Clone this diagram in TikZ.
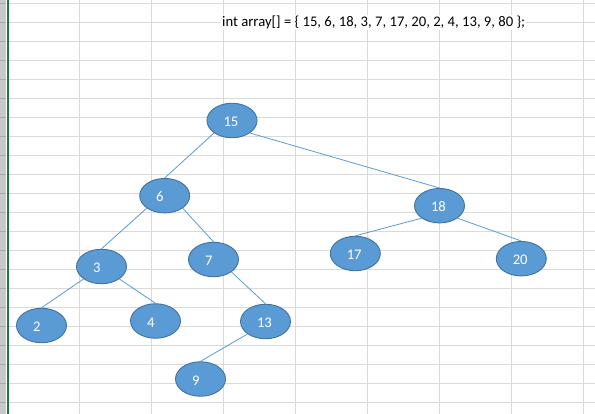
\documentclass[tikz,border=0pt]{standalone}
\usepackage{fontspec}
\setmainfont{Carlito}
\usetikzlibrary{shapes.geometric}
\definecolor{nodefill}{HTML}{5B9BD5}
\definecolor{nodeborder}{HTML}{41719C}
\definecolor{gridgray}{HTML}{DADADA}
\definecolor{stripgray}{HTML}{C8C8C8}
\definecolor{stripline}{HTML}{A8A8A8}
\definecolor{excelgreen}{HTML}{217346}
\tikzset{
  treenode/.style={ellipse, fill=nodefill, draw=nodeborder, line width=0.9pt,
    minimum width=50pt, minimum height=34.5pt, inner sep=0pt,
    text=white, text width=17pt, align=left, text height=12.4pt, text depth=0pt,
    font=\fontsize{14.67}{17}\selectfont},
  edge/.style={draw=nodefill, line width=0.8pt},
  gridline/.style={draw=gridgray, line width=0.9pt},
  codetext/.style={fill=white, inner xsep=1pt, inner ysep=1pt, anchor=base west,
    font=\fontsize{14.67}{17}\selectfont}
}
\begin{document}
\begin{tikzpicture}[x=1pt, y=-1pt]
\useasboundingbox (0,0) rectangle (595,414);
\fill[white] (0,0) rectangle (595,414);
% grid
\foreach \k in {0,...,21} {
  \draw[gridline] (9,{3.3+19*\k}) -- (595,{3.3+19*\k});
}
\foreach \xx in {79.2,151.2,223.2,295.3,367.4,439.4,511.5,583.5} {
  \draw[gridline] (\xx,0) -- (\xx,414);
}
% left strip
\fill[stripgray] (0,0) rectangle (5.7,414);
\foreach \k in {0,...,21} {
  \draw[stripline, line width=0.8pt] (0,{3.3+19*\k}) -- (5.7,{3.3+19*\k});
}
\fill[excelgreen] (6.7,0) rectangle (8.7,414);
% code text
\node[codetext] (code) at (221,26.7) {int array[] = \{ 15, 6, 18, 3, 7, 17, 20, 2, 4, 13, 9, 80 \};};
% tree nodes
\node[treenode] (n15) at (232,120.5) {15};
\node[treenode] (n6) at (164.7,195.7) {6};
\node[treenode] (n18) at (439.5,205.7) {18};
\node[treenode] (n3) at (101.5,266.5) {3};
\node[treenode] (n7) at (213.5,259.5) {7};
\node[treenode] (n17) at (355.3,253.5) {17};
\node[treenode] (n20) at (521.3,258.7) {20};
\node[treenode] (n2) at (41.5,325.5) {2};
\node[treenode] (n4) at (155.5,321) {4};
\node[treenode] (n13) at (265.5,321.5) {13};
\node[treenode] (n9) at (200.5,379) {9};
% edges
\draw[edge] (n15.south west) -- (n6.north);
\draw[edge] (n15.south east) -- (n18.north);
\draw[edge] (n6.south west) -- (n3.north);
\draw[edge] (n6.south east) -- (n7.north);
\draw[edge] (n18.south west) -- (n17.north);
\draw[edge] (n18.south east) -- (n20.north);
\draw[edge] (n3.south west) -- (n2.north);
\draw[edge] (n3.south east) -- (n4.north);
\draw[edge] (n7.south east) -- (n13.north);
\draw[edge] (n13.south west) -- (n9.north);
\end{tikzpicture}
\end{document}
